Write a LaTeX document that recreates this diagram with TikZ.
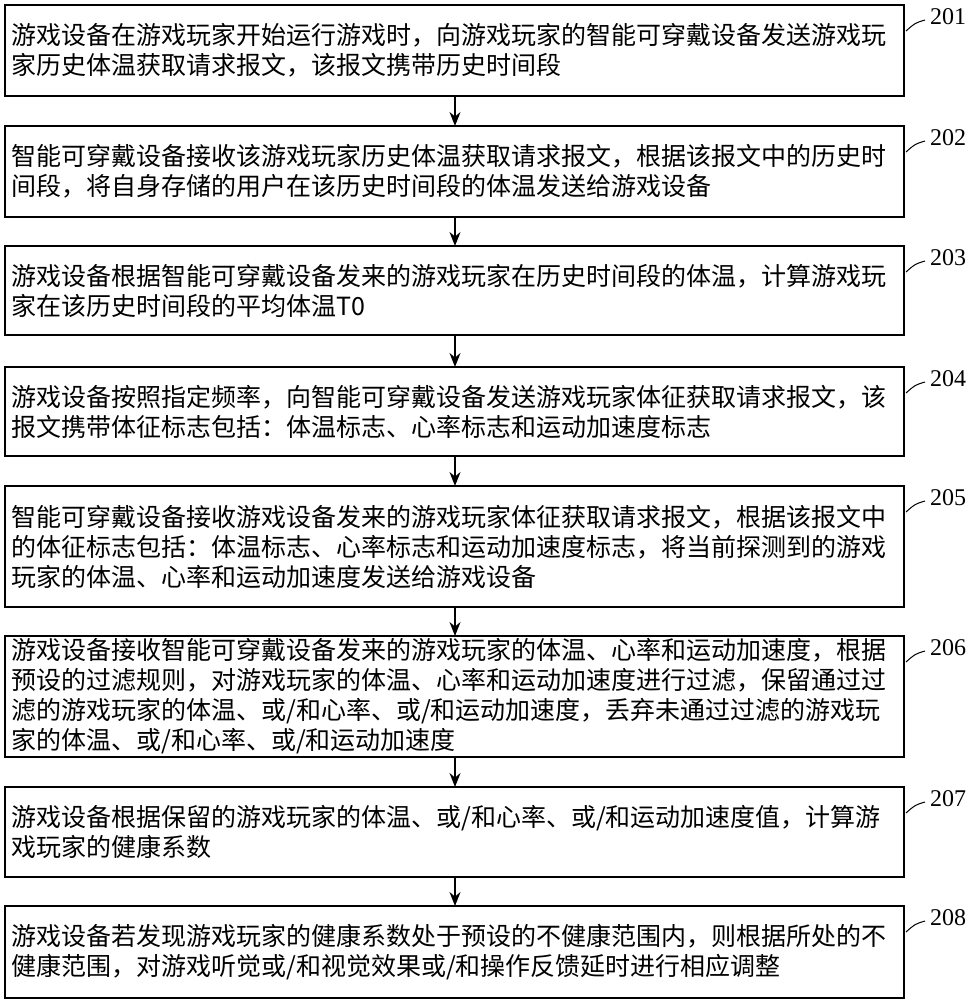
\documentclass[tikz,border=0pt]{standalone}
\usepackage{fontspec}
\setmainfont{Liberation Serif}
\newfontfamily\cjk{Noto Sans CJK SC}
\usetikzlibrary{arrows.meta}
\begin{document}
\begin{tikzpicture}[x=1pt,y=-1pt,
  stepbox/.style={draw,line width=1.8pt,minimum width=899pt,anchor=north west,inner sep=0pt},
  txt/.style={anchor=west,align=left,font=\cjk\fontsize{25}{30}\selectfont,inner sep=0pt},
  lab/.style={anchor=west,font=\fontsize{24}{24}\selectfont,inner sep=0pt},
  arr/.style={line width=1.5pt,-{Stealth[length=14pt,width=11pt]}}]
\useasboundingbox (0,0) rectangle (971,1000);
\def\bx#1#2#3#4#5{%
  \draw[line width=1.8pt] (5,#2) rectangle (904,#3);
  \coordinate (#1t) at (455,#2); \coordinate (#1b) at (455,#3);
  \node[txt] (#1x) at (11,{(#2+#3)/2}) {#4};
  \node[lab] (#1l) at (930,#2+12) {#5};
  \draw[line width=1pt] (906,#2+26) .. controls (915,#2+18) .. (925,#2+15);
}
\bx{a}{5}{96}{游戏设备在游戏玩家开始运行游戏时，向游戏玩家的智能可穿戴设备发送游戏玩\\家历史体温获取请求报文，该报文携带历史时间段}{201}
\bx{b}{126}{217}{智能可穿戴设备接收该游戏玩家历史体温获取请求报文，根据该报文中的历史时\\间段，将自身存储的用户在该历史时间段的体温发送给游戏设备}{202}
\bx{c}{246}{335}{游戏设备根据智能可穿戴设备发来的游戏玩家在历史时间段的体温，计算游戏玩\\家在该历史时间段的平均体温T0}{203}
\bx{d}{367}{456}{游戏设备按照指定频率，向智能可穿戴设备发送游戏玩家体征获取请求报文，该\\报文携带体征标志包括：体温标志、心率标志和运动加速度标志}{204}
\bx{e}{486}{607}{智能可穿戴设备接收游戏设备发来的游戏玩家体征获取请求报文，根据该报文中\\的体征标志包括：体温标志、心率标志和运动加速度标志，将当前探测到的游戏\\玩家的体温、心率和运动加速度发送给游戏设备}{205}
\bx{f}{636}{757}{游戏设备接收智能可穿戴设备发来的游戏玩家的体温、心率和运动加速度，根据\\预设的过滤规则，对游戏玩家的体温、心率和运动加速度进行过滤，保留通过过\\滤的游戏玩家的体温、或/和心率、或/和运动加速度，丢弃未通过过滤的游戏玩\\家的体温、或/和心率、或/和运动加速度}{206}
\bx{g}{787}{877}{游戏设备根据保留的游戏玩家的体温、或/和心率、或/和运动加速度值，计算游\\戏玩家的健康系数}{207}
\bx{h}{906}{998}{游戏设备若发现游戏玩家的健康系数处于预设的不健康范围内，则根据所处的不\\健康范围，对游戏听觉或/和视觉效果或/和操作反馈延时进行相应调整}{208}
\draw[arr] (ab) -- (bt);
\draw[arr] (bb) -- (ct);
\draw[arr] (cb) -- (dt);
\draw[arr] (db) -- (et);
\draw[arr] (eb) -- (ft);
\draw[arr] (fb) -- (gt);
\draw[arr] (gb) -- (ht);
\end{tikzpicture}
\end{document}
